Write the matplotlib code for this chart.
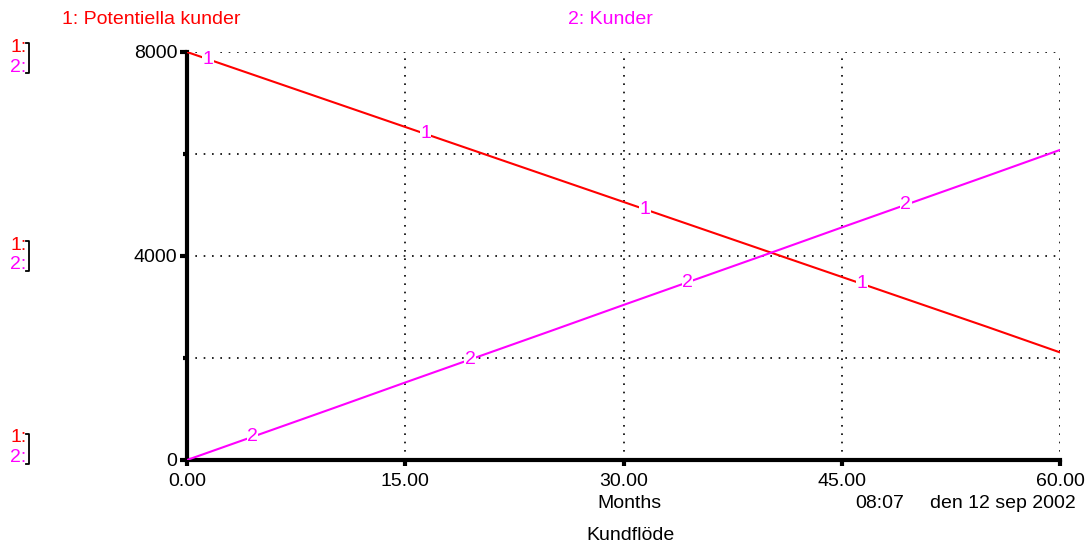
import matplotlib
matplotlib.use("Agg")
import matplotlib.pyplot as plt
from matplotlib.lines import Line2D
import numpy as np

plt.rcParams['font.family'] = ['Liberation Sans', 'DejaVu Sans']

months = [0, 5, 10, 15, 20, 25, 30, 35, 40, 45, 50, 55, 60]
potentiella = [8000, 7510, 7020, 6530, 6040, 5550, 5060, 4570, 4080, 3590, 3100, 2610, 2110]
kunder = [0, 505, 1010, 1520, 2025, 2530, 3040, 3545, 4050, 4560, 5065, 5570, 6080]
label1_t = [1.45, 16.4, 31.5, 46.4]
label2_t = [4.5, 19.45, 34.4, 49.4]
x_ticks = [0, 15, 30, 45, 60]
x_ticklabels = ["0.00", "15.00", "30.00", "45.00", "60.00"]
y_major = [0, 4000, 8000]
y_minor = [2000, 6000]

RED = "#ff0000"
MAG = "#ff00ff"
FS = 14

fig = plt.figure(figsize=(10.85, 5.44), dpi=100)
W, H = 1085, 544
ax = fig.add_axes([187 / W, 1 - 460 / H, (1060 - 187) / W, (460 - 52) / H])

ax.plot(months, potentiella, color=RED, lw=1.5, zorder=3)
ax.plot(months, kunder, color=MAG, lw=1.5, zorder=3)

for t in label1_t:
    v = np.interp(t, months, potentiella)
    ax.text(t, v, "1", color=MAG, fontsize=FS, ha="center", va="center", zorder=4,
            bbox=dict(facecolor="white", edgecolor="none", pad=0.3))
for t in label2_t:
    v = np.interp(t, months, kunder)
    ax.text(t, v, "2", color=MAG, fontsize=FS, ha="center", va="center", zorder=4,
            bbox=dict(facecolor="white", edgecolor="none", pad=0.3))

ax.set_xlim(0, 60)
ax.set_ylim(0, 8000)
ax.set_xticks(x_ticks)
ax.set_xticklabels(x_ticklabels)
ax.set_yticks(y_major)
ax.set_yticklabels([str(v) for v in y_major])
ax.set_yticks(y_minor, minor=True)

for x in x_ticks[1:]:
    ax.axvline(x, color="black", lw=1.2, ls=(0, (1, 4)), zorder=1)
for y in y_minor + [4000, 8000]:
    ax.axhline(y, color="black", lw=1.2, ls=(0, (1, 4)), zorder=1)

for s in ["top", "right"]:
    ax.spines[s].set_visible(False)
ax.spines["left"].set_linewidth(3)
ax.spines["bottom"].set_linewidth(3)
ax.tick_params(axis="both", which="major", length=5, width=3, labelsize=FS, pad=2)
ax.tick_params(axis="y", which="minor", length=3, width=3)
ax.tick_params(axis="x", which="major", direction="out", length=4, pad=5)

fig.text(62 / W, 1 - 19 / H, "1: Potentiella kunder", color=RED, fontsize=FS, ha="left", va="center")
fig.text(568 / W, 1 - 19 / H, "2: Kunder", color=MAG, fontsize=FS, ha="left", va="center")

for ytop in [47, 245, 438]:
    fig.text(10 / W, 1 - ytop / H, "1:", color=RED, fontsize=FS, ha="left", va="center")
    fig.text(10 / W, 1 - (ytop + 20) / H, "2:", color=MAG, fontsize=FS, ha="left", va="center")
    y0, y1 = ytop - 4, ytop + 26
    bx = [26 / W, 29 / W, 29 / W, 26 / W]
    by = [1 - y0 / H, 1 - y0 / H, 1 - y1 / H, 1 - y1 / H]
    fig.add_artist(Line2D(bx, by, color="black", lw=1.3, transform=fig.transFigure))

fig.text(629 / W, 1 - 504 / H, "Months", fontsize=FS, ha="center", va="center")
fig.text(880 / W, 1 - 504 / H, "08:07", fontsize=FS, ha="center", va="center")
fig.text(1003 / W, 1 - 504 / H, "den 12 sep 2002", fontsize=FS, ha="center", va="center")
fig.text(630 / W, 1 - 536 / H, "Kundflöde", fontsize=FS, ha="center", va="center")

fig.savefig("out.png", dpi=100)
